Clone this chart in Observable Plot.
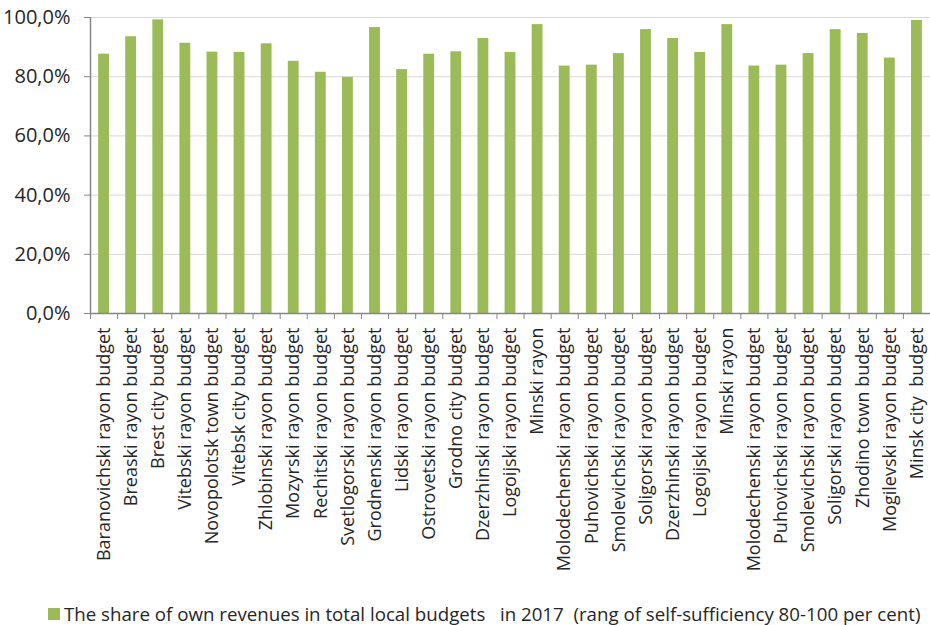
<!DOCTYPE html>
<html><head><meta charset="utf-8">
<script src="https://cdn.jsdelivr.net/npm/d3@7"></script>
<script src="https://cdn.jsdelivr.net/npm/@observablehq/plot@0.6"></script>
<style>
body{margin:0;background:#fff;font-family:"Open Sans",sans-serif;}
#chart svg{display:block;}
#legend{position:absolute;left:48px;top:601px;font-size:18.7px;color:#262626;white-space:pre;display:flex;align-items:center;}
#legend .sw{display:inline-block;width:12px;height:12px;background:#9BBB59;margin-right:4px;}
</style></head><body>
<div id="chart"></div>
<div id="legend"><span class="sw"></span><span id="legtext"></span></div>
<script>
const labels = [
  "Baranovichski rayon budget","Breaski rayon budget","Brest city budget","Vitebski rayon budget",
  "Novopolotsk town budget","Vitebsk city budget","Zhlobinski rayon budget","Mozyrski rayon budget",
  "Rechitski rayon budget","Svetlogorski rayon budget","Grodnenski rayon budget","Lidski rayon budget",
  "Ostrovetski rayon budget","Grodno city budget","Dzerzhinski rayon budget","Logoijski rayon budget",
  "Minski rayon","Molodechenski rayon budget","Puhovichski rayon budget","Smolevichski rayon budget",
  "Soligorski rayon budget","Dzerzhinski rayon budget","Logoijski rayon budget","Minski rayon",
  "Molodechenski rayon budget","Puhovichski rayon budget","Smolevichski rayon budget","Soligorski rayon budget",
  "Zhodino town budget","Mogilevski rayon budget","Minsk city  budget"
];
const values = [
  87.6, 93.5, 99.2, 91.3, 88.3, 88.2, 91.1, 85.2, 81.5, 79.8, 96.6, 82.4, 87.6, 88.4,
  92.9, 88.2, 97.6, 83.6, 83.9, 87.8, 95.9, 92.9, 88.2, 97.6, 83.6, 83.9, 87.8, 95.9,
  94.6, 86.3, 99.0
];
const yTicks = [0, 20, 40, 60, 80, 100];
const seriesName = "The share of own revenues in total local budgets   in 2017  (rang of self-sufficiency 80-100 per cent)";

const data = labels.map((name, i) => ({i, name, value: values[i]}));
const n = labels.length;
const boundaries = d3.range(n + 1);
const centers = d3.range(n).map(i => i + 0.5);

const fmt = v => v.toFixed(1).replace(".", ",") + "%";

const chart = Plot.plot({
  width: 930,
  height: 600,
  marginLeft: 90,
  marginRight: 0,
  marginTop: 17,
  marginBottom: 287,
  style: {fontFamily: "'Open Sans', sans-serif", color: "#262626", background: "#fff", overflow: "visible"},
  x: {domain: [0, n], axis: null},
  y: {domain: [0, 100], axis: null},
  marks: [
    Plot.gridY(yTicks.filter(d => d > 0), {stroke: "#d9d9d9", strokeOpacity: 1}),
    Plot.rectY(data, {x1: d => d.i + 0.3, x2: d => d.i + 0.7, y: "value", fill: "#9BBB59"}),
    Plot.ruleY([0], {stroke: "#868686", strokeWidth: 1.5}),
    Plot.ruleX([0], {stroke: "#868686", strokeWidth: 1.5}),
    Plot.axisY({ticks: yTicks, tickFormat: fmt, tickSize: 6, tickPadding: 14, stroke: "#868686", fontSize: 20, fill: "#262626", label: null}),
    Plot.axisX({ticks: boundaries, tickFormat: () => "", tickSize: 6, stroke: "#868686", label: null}),
    Plot.axisX({ticks: centers, tickFormat: v => labels[Math.floor(v)], tickSize: 0, tickPadding: 14, tickRotate: -90, fontSize: 18, fill: "#262626", label: null})
  ]
});
document.getElementById("chart").append(chart);
document.getElementById("legtext").textContent = seriesName;
</script>
</body></html>
